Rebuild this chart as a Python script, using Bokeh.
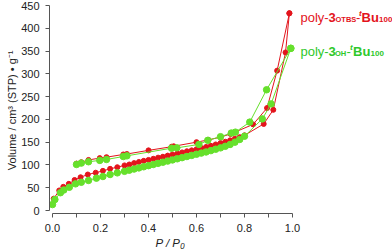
from bokeh.plotting import figure
from bokeh.models import Label, FixedTicker, Range1d, Title
from bokeh.embed import file_html
from bokeh.resources import INLINE

# ---- data (P/P0, volume cm3(STP)/g) ----
red_ads_p = [0.005, 0.028, 0.045, 0.068, 0.092, 0.117, 0.147, 0.18, 0.21, 0.24, 0.27, 0.30,
             0.32, 0.34, 0.36, 0.38, 0.40, 0.42, 0.44, 0.46, 0.48, 0.50, 0.52, 0.54, 0.56,
             0.58, 0.60, 0.62, 0.64, 0.66, 0.68, 0.70, 0.72, 0.74, 0.76, 0.78, 0.80,
             0.88, 0.92, 0.971, 0.987]
red_ads_v = [26, 44, 52, 58.5, 67, 73, 79, 83, 87, 91.5, 95, 99,
             101, 104, 106.5, 109, 111, 113.5, 116, 118, 120.5, 123, 125, 127.5, 130,
             132, 134.5, 137, 139.5, 142, 145, 148, 151, 154, 157.5, 161, 165,
             190, 221, 347, 433]
red_des_p = [0.987, 0.936, 0.894, 0.836, 0.742, 0.70, 0.65, 0.60, 0.505, 0.496, 0.40,
             0.31, 0.295, 0.225, 0.197, 0.15, 0.12, 0.10]
red_des_v = [433, 307, 225, 189, 168, 161, 155, 150, 141, 140, 132,
             124, 123, 117, 115, 111, 106, 103]

green_ads_p = [0.0, 0.01, 0.033, 0.047, 0.07, 0.096, 0.12, 0.15, 0.183, 0.21, 0.24, 0.27, 0.30,
               0.32, 0.34, 0.36, 0.38, 0.40, 0.42, 0.44, 0.46, 0.48, 0.50, 0.52, 0.54, 0.56,
               0.58, 0.60, 0.62, 0.64, 0.66, 0.68, 0.70, 0.72, 0.74, 0.76, 0.78, 0.80,
               0.874, 0.911, 0.993]
green_ads_v = [13, 24, 39, 45, 51, 58.5, 62, 66, 71, 74.6, 79, 82.6, 86,
               88.5, 91, 93.5, 96, 98.5, 101, 103.5, 106, 108.5, 111, 113.5, 116, 118.5,
               121, 123.5, 126, 128.5, 131.5, 134.5, 137.5, 141, 145, 150, 156, 163,
               201, 234, 356]
green_des_p = [0.993, 0.892, 0.822, 0.762, 0.745, 0.70, 0.647, 0.61, 0.518, 0.496,
               0.31, 0.295, 0.225, 0.197, 0.15, 0.12, 0.10]
green_des_v = [356, 265, 194, 172, 170, 162, 154, 145, 137.5, 136.8,
               120, 118.5, 112, 110, 107, 104, 101]

y_ticks = [0, 50, 100, 150, 200, 250, 300, 350, 400, 450]
x_ticks = [0.0, 0.2, 0.4, 0.6, 0.8, 1.0]
x_minor = [0.1, 0.3, 0.5, 0.7, 0.9]

RED = "#e3141c"
GREEN_M = "#66e02c"
GREEN_T = "#2ec82a"
FONT = "Liberation Sans"

SX = 240.0          # px per unit P/P0
SY = 205.0 / 450.0  # px per volume unit
# frame: x from page 49 to 392, y from page 0 to 213; x=0 at 52, v=0 at 210
p = figure(width=392, height=249, output_backend="svg", toolbar_location=None,
           x_range=Range1d(-3 / SX, 340 / SX), y_range=Range1d(-3 / SY, 210 / SY),
           min_border_left=49, min_border_right=0, min_border_top=0, min_border_bottom=36)
p.outline_line_color = None
p.xgrid.visible = False
p.ygrid.visible = False
p.background_fill_color = "white"
p.border_fill_color = "white"

for ax in (p.xaxis[0], p.yaxis[0]):
    ax.axis_line_color = "#555555"
    ax.major_tick_line_color = "#555555"
    ax.minor_tick_line_color = "#555555"
    ax.major_tick_in = 0
    ax.major_tick_out = 4
    ax.minor_tick_in = 0
    ax.minor_tick_out = 4
    ax.major_label_text_font = FONT
    ax.major_label_text_font_size = "11px"
    ax.major_label_text_color = "#222222"

p.xaxis[0].bounds = (0, 1.0)
p.yaxis[0].bounds = (0, 450)
p.xaxis[0].ticker = FixedTicker(ticks=x_ticks, minor_ticks=x_minor)
p.yaxis[0].ticker = FixedTicker(ticks=y_ticks)
p.yaxis[0].minor_tick_line_color = None
p.xaxis[0].major_label_standoff = 6
p.yaxis[0].major_label_standoff = 6
p.xaxis[0].major_label_overrides = {0.0: "0.0", 1.0: "1.0"}

# axis titles as side-panel titles
p.add_layout(Title(text="P / P\u2080", text_font=FONT, text_font_size="11.5px",
                   text_font_style="italic", text_color="#222222", align="left",
                   offset=106, standoff=0), "below")
p.add_layout(Title(text="Volume / cm\u00b3 (STP) \u2022 g\u207b\u00b9", text_font=FONT,
                   text_font_size="11px", text_font_style="normal", text_color="#222222",
                   align="right", offset=50, standoff=2), "left")

# curves
p.line(red_ads_p, red_ads_v, color=RED, line_width=1)
p.line(red_des_p, red_des_v, color=RED, line_width=1)
p.scatter(red_ads_p, red_ads_v, size=5, color=RED)
p.scatter(red_des_p, red_des_v, size=5, color=RED)
p.line(green_ads_p, green_ads_v, color=GREEN_M, line_width=1)
p.line(green_des_p, green_des_v, color=GREEN_M, line_width=1)
p.scatter(green_ads_p, green_ads_v, size=6.5, color=GREEN_M)
p.scatter(green_des_p, green_des_v, size=6.5, color=GREEN_M)


def seg(x0, y0, dx, dy, txt, size, style, color):
    p.add_layout(Label(x=x0, y=y0 + dy / SY, x_offset=dx, text=txt,
                       text_font=FONT, text_font_size=size, text_font_style=style,
                       text_color=color, text_baseline="alphabetic", text_align="left"))


LX = (300 - 52) / SX
for dx, dy, t, s, st in [(0, 0, "poly-", "13px", "normal"), (28, 0, "3", "13px", "bold"),
                         (35, -2, "OTBS", "7.5px", "bold"), (55.5, 0, "-", "13px", "normal"),
                         (58.5, 4, "t", "8px", "bold italic"), (61, 0, "Bu", "13px", "bold"),
                         (78.5, -2, "100", "8px", "bold")]:
    seg(LX, (210 - 17) / SY, dx, dy, t, s, st, RED)
for dx, dy, t, s, st in [(0, 0, "poly-", "13px", "normal"), (28, 0, "3", "13px", "bold"),
                         (34.5, -2, "OH", "7.5px", "bold"), (46, 0, "-", "13px", "normal"),
                         (49.5, 4, "t", "8px", "bold italic"), (52.5, 0, "Bu", "13px", "bold"),
                         (70, -2, "100", "8px", "bold")]:
    seg(LX, (210 - 51) / SY, dx, dy, t, s, st, GREEN_T)

open("out.html", "w").write(file_html(p, INLINE))
